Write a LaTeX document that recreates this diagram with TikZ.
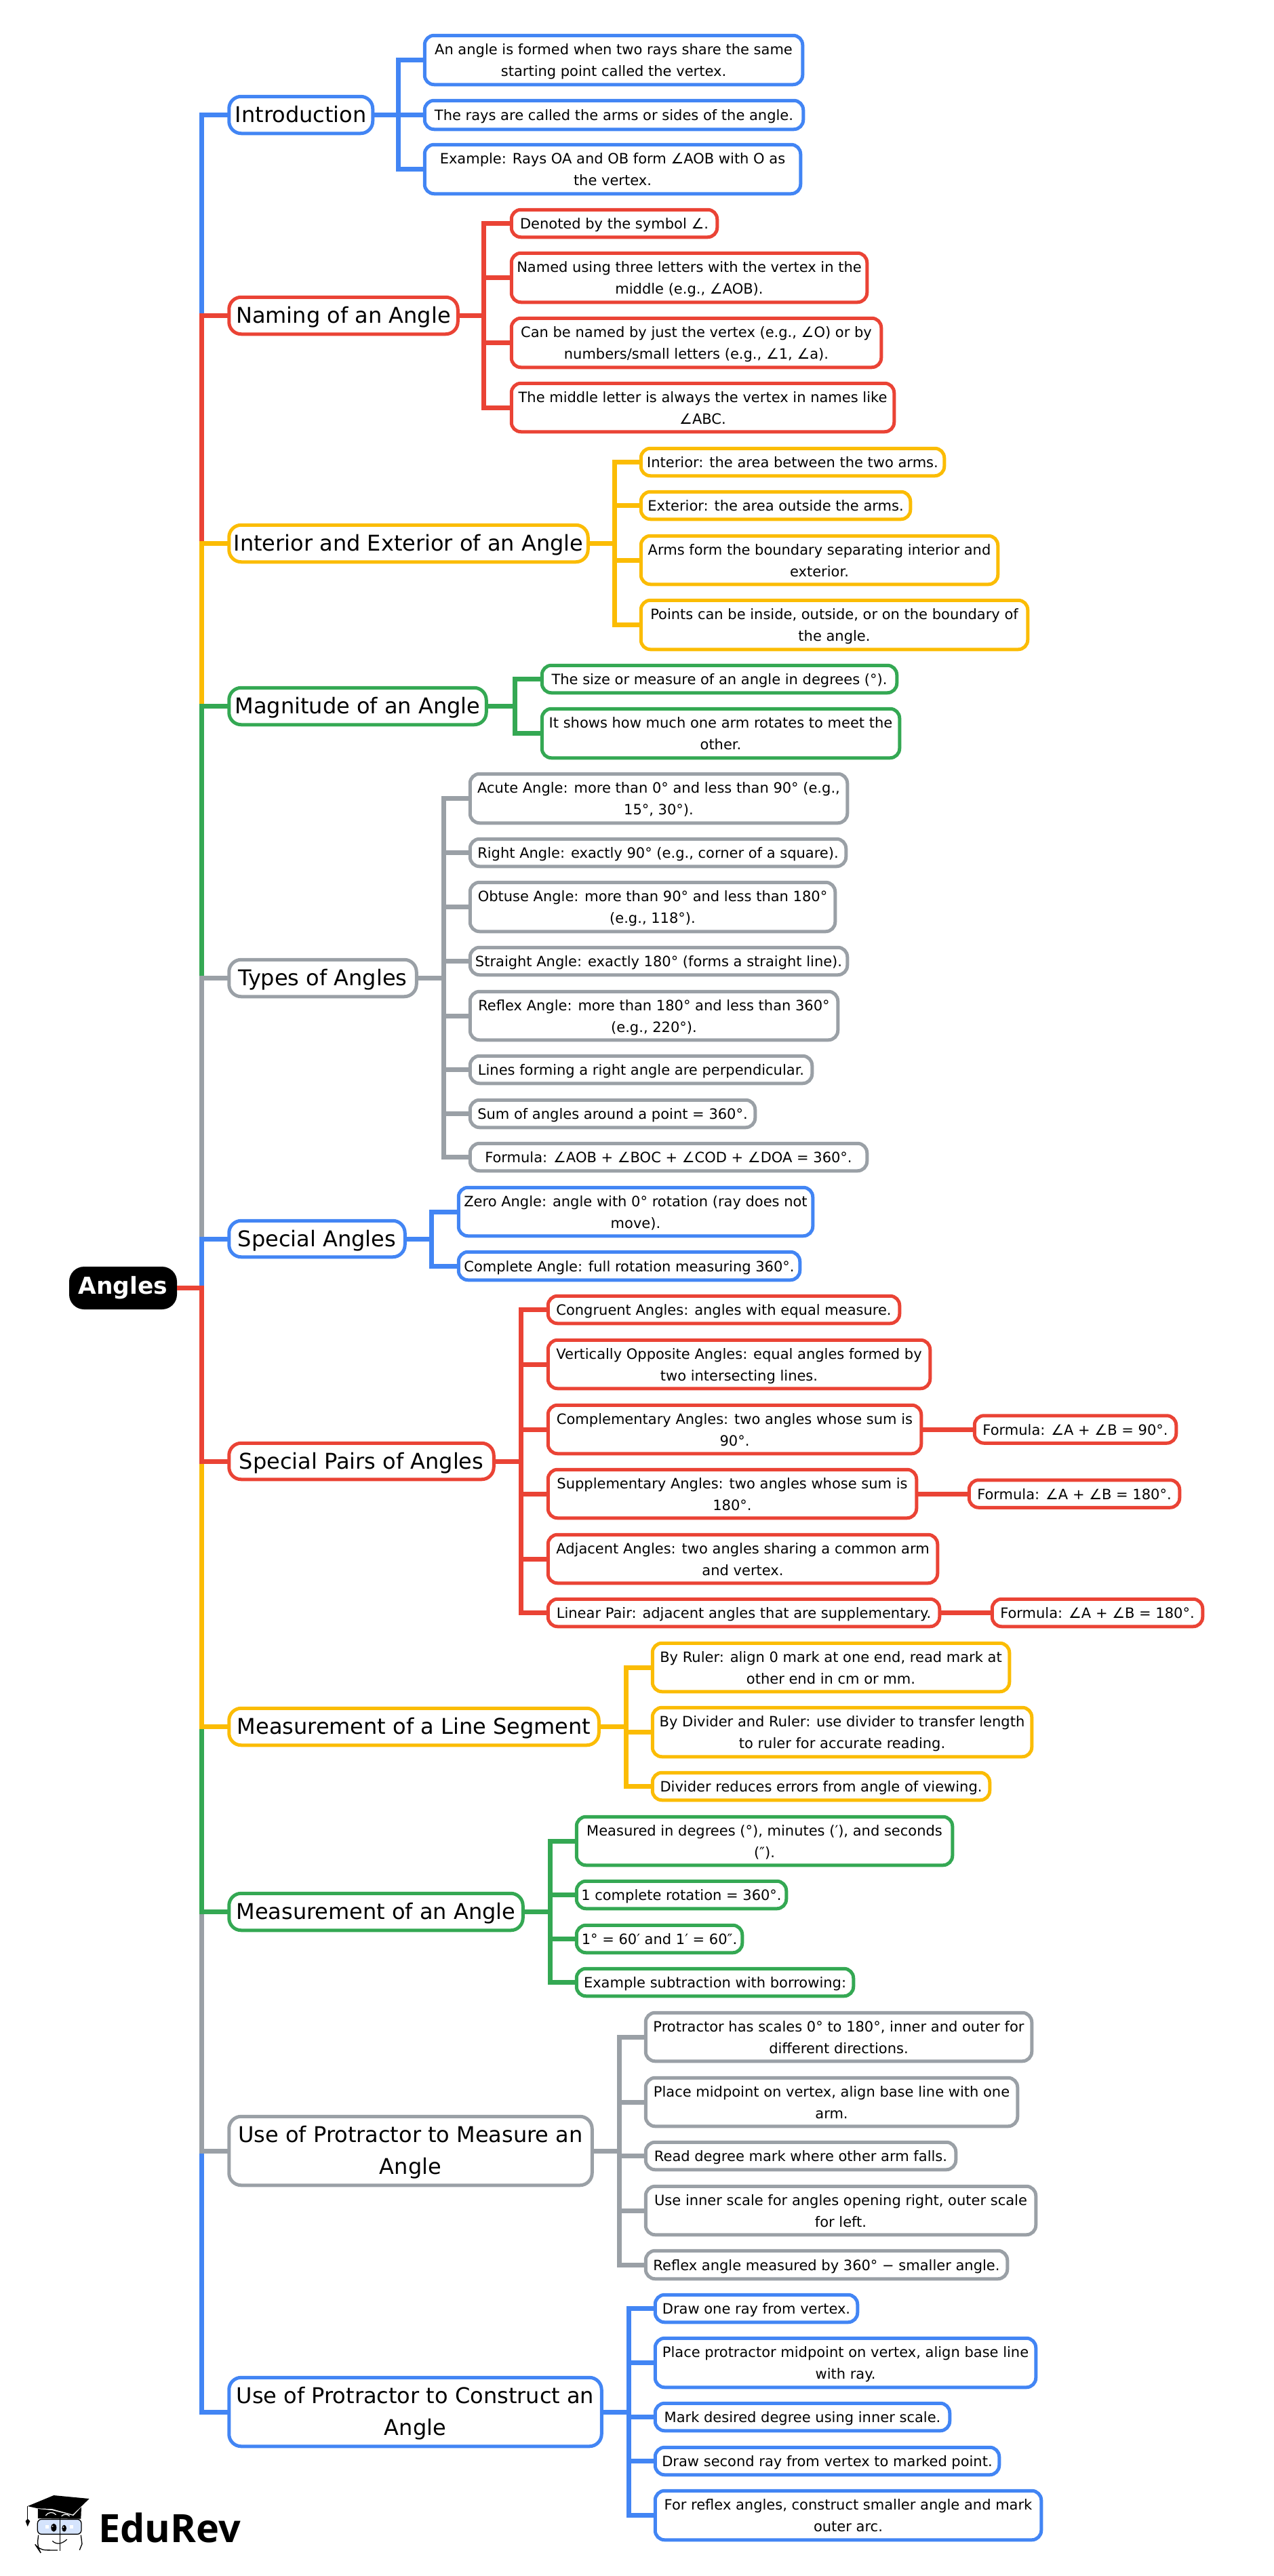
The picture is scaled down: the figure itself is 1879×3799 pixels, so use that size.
\documentclass[tikz,border=0pt]{standalone}
\usepackage{fontspec}
\setmainfont{DejaVu Sans}
\newfontfamily\logofont{Open Sans}
\definecolor{cB}{HTML}{4285F4}
\definecolor{cR}{HTML}{EA4335}
\definecolor{cY}{HTML}{FBBC04}
\definecolor{cG}{HTML}{34A853}
\definecolor{cK}{HTML}{9AA0A6}
\newcommand{\leaffont}{\fontsize{21}{32}\selectfont}
\newcommand{\mainfont}{\fontsize{32}{47}\selectfont}
\newcommand{\topstrut}{\rule{0pt}{\dimexpr0.7\baselineskip+4pt\relax}}
\newcommand{\nd}[7]{\node[#6,minimum width={#4-#2-4.5},minimum height={#5-#3-4.5}] (#1) at ({(#2+#4)/2},{(#3+#5)/2}) {\topstrut #7\strut};}
\newcommand{\elbow}[4]{\draw[conn=#1] (#2.east) -- (#2.east -| #3,0) |- (#4.west);}
\newcommand{\trunk}[2]{\draw[conn=#1] (root.east) -- (root.east -| 297,0) |- (#2.west);}
\tikzset{
  x=1pt,y=-1pt,
  boxbase/.style={draw,line width=5pt,fill=white,align=center,inner sep=0pt,outer sep=0pt},
  lf/.style={boxbase,draw=#1,rounded corners=14pt,font=\leaffont},
  mn/.style={boxbase,draw=#1,rounded corners=18pt,font=\mainfont},
  conn/.style={draw=#1,line width=7pt},
}
\begin{document}
\begin{tikzpicture}
\useasboundingbox (0,0) rectangle (1879,3799);
% root
\node[fill=black,rounded corners=22pt,text=white,inner sep=0pt,minimum width=159pt,minimum height=63pt,font=\fontsize{34.5}{40}\selectfont\bfseries] (root) at (181.5,1899.5) {\raisebox{-3pt}{Angles}};
% mains
\nd{intro}{335.5}{140}{552}{199}{mn=cB}{Introduction}
\nd{naming}{335.5}{436}{677.5}{495}{mn=cR}{Naming of an Angle}
\nd{interior}{335.5}{772}{869.5}{831}{mn=cY}{Interior and Exterior of an Angle}
\nd{magnitude}{335.5}{1012}{719.5}{1071}{mn=cG}{Magnitude of an Angle}
\nd{types}{335.5}{1413}{616.5}{1472}{mn=cK}{Types of Angles}
\nd{special}{335.5}{1798}{599.5}{1856}{mn=cB}{Special Angles}
\nd{pairs}{335.5}{2126}{730.5}{2184}{mn=cR}{Special Pairs of Angles}
\nd{segment}{335.5}{2517}{885.5}{2576}{mn=cY}{Measurement of a Line Segment}
\nd{measure}{335.5}{2790}{773.5}{2849}{mn=cG}{Measurement of an Angle}
\nd{usem}{335.5}{3119}{875.5}{3225}{mn=cK}{Use of Protractor to Measure an\\Angle}
\nd{usec}{335.5}{3504}{889.5}{3610}{mn=cB}{Use of Protractor to Construct an\\Angle}
% intro leaves
\nd{a1}{624}{50}{1186}{127}{lf=cB}{An angle is formed when two rays share the same\\starting point called the vertex.}
\nd{a2}{624}{146}{1187}{193}{lf=cB}{The rays are called the arms or sides of the angle.}
\nd{a3}{624}{211}{1183}{288}{lf=cB}{Example: Rays OA and OB form ∠AOB with O as\\the vertex.}
% naming leaves
\nd{b1}{752}{307}{1060}{352}{lf=cR}{Denoted by the symbol ∠.}
\nd{b2}{752}{371}{1281}{448}{lf=cR}{Named using three letters with the vertex in the\\middle (e.g., ∠AOB).}
\nd{b3}{752}{467}{1302}{544}{lf=cR}{Can be named by just the vertex (e.g., ∠O) or by\\numbers/small letters (e.g., ∠1, ∠a).}
\nd{b4}{752}{563}{1321}{639}{lf=cR}{The middle letter is always the vertex in names like\\∠ABC.}
% interior leaves
\nd{c1}{943}{659}{1395}{704}{lf=cY}{Interior: the area between the two arms.}
\nd{c2}{943}{723}{1345}{768}{lf=cY}{Exterior: the area outside the arms.}
\nd{c3}{943}{788}{1474}{864}{lf=cY}{Arms form the boundary separating interior and\\exterior.}
\nd{c4}{943}{883}{1518}{960}{lf=cY}{Points can be inside, outside, or on the boundary of\\the angle.}
% magnitude leaves
\nd{d1}{797}{979}{1325}{1024}{lf=cG}{The size or measure of an angle in degrees (°).}
\nd{d2}{797}{1043}{1329}{1120}{lf=cG}{It shows how much one arm rotates to meet the\\other.}
% types leaves
\nd{e1}{691}{1139}{1252}{1216}{lf=cK}{Acute Angle: more than 0° and less than 90° (e.g.,\\15°, 30°).}
\nd{e2}{691}{1235}{1250}{1280}{lf=cK}{Right Angle: exactly 90° (e.g., corner of a square).}
\nd{e3}{691}{1299}{1234}{1376}{lf=cK}{Obtuse Angle: more than 90° and less than 180°\\(e.g., 118°).}
\nd{e4}{691}{1395}{1252}{1440}{lf=cK}{Straight Angle: exactly 180° (forms a straight line).}
\nd{e5}{691}{1460}{1238}{1536}{lf=cK}{Reflex Angle: more than 180° and less than 360°\\(e.g., 220°).}
\nd{e6}{691}{1555}{1200}{1600}{lf=cK}{Lines forming a right angle are perpendicular.}
\nd{e7}{691}{1620}{1116}{1665}{lf=cK}{Sum of angles around a point = 360°.}
\nd{e8}{691}{1684}{1281}{1729}{lf=cK}{Formula: ∠AOB + ∠BOC + ∠COD + ∠DOA = 360°.}
% special leaves
\nd{f1}{674}{1749}{1201}{1825}{lf=cB}{Zero Angle: angle with 0° rotation (ray does not\\move).}
\nd{f2}{674}{1844}{1182}{1890}{lf=cB}{Complete Angle: full rotation measuring 360°.}
% pairs leaves
\nd{g1}{806}{1909}{1329}{1954}{lf=cR}{Congruent Angles: angles with equal measure.}
\nd{g2}{806}{1974}{1374}{2050}{lf=cR}{Vertically Opposite Angles: equal angles formed by\\two intersecting lines.}
\nd{g3}{806}{2070}{1361}{2146}{lf=cR}{Complementary Angles: two angles whose sum is\\90°.}
\nd{g4}{806}{2165}{1354}{2241}{lf=cR}{Supplementary Angles: two angles whose sum is\\180°.}
\nd{g5}{806}{2261}{1385}{2337}{lf=cR}{Adjacent Angles: two angles sharing a common arm\\and vertex.}
\nd{g6}{806}{2356}{1388}{2401}{lf=cR}{Linear Pair: adjacent angles that are supplementary.}
\nd{fc}{1435}{2085.5}{1737}{2130.5}{lf=cR}{Formula: ∠A + ∠B = 90°.}
\nd{fs}{1427}{2180.5}{1742}{2225.5}{lf=cR}{Formula: ∠A + ∠B = 180°.}
\nd{fl}{1461}{2356}{1776}{2401}{lf=cR}{Formula: ∠A + ∠B = 180°.}
% segment leaves
\nd{h1}{960}{2421}{1491}{2497}{lf=cY}{By Ruler: align 0 mark at one end, read mark at\\other end in cm or mm.}
\nd{h2}{960}{2516}{1524}{2593}{lf=cY}{By Divider and Ruler: use divider to transfer length\\to ruler for accurate reading.}
\nd{h3}{960}{2612}{1462}{2657}{lf=cY}{Divider reduces errors from angle of viewing.}
% measure leaves
\nd{i1}{848}{2677}{1407}{2753}{lf=cG}{Measured in degrees (°), minutes (′), and seconds\\(″).}
\nd{i2}{848}{2772}{1162}{2817}{lf=cG}{1 complete rotation = 360°.}
\nd{i3}{848}{2837}{1097}{2882}{lf=cG}{1° = 60′ and 1′ = 60″.}
\nd{i4}{848}{2901}{1261}{2946}{lf=cG}{Example subtraction with borrowing:}
% use measure leaves
\nd{j1}{950}{2966}{1524}{3042}{lf=cK}{Protractor has scales 0° to 180°, inner and outer for\\different directions.}
\nd{j2}{950}{3062}{1503}{3138}{lf=cK}{Place midpoint on vertex, align base line with one\\arm.}
\nd{j3}{950}{3157}{1412}{3202}{lf=cK}{Read degree mark where other arm falls.}
\nd{j4}{950}{3222}{1530}{3298}{lf=cK}{Use inner scale for angles opening right, outer scale\\for left.}
\nd{j5}{950}{3317}{1488}{3363}{lf=cK}{Reflex angle measured by 360° − smaller angle.}
% use construct leaves
\nd{k1}{964}{3382}{1267}{3427}{lf=cB}{Draw one ray from vertex.}
\nd{k2}{964}{3446}{1530}{3523}{lf=cB}{Place protractor midpoint on vertex, align base line\\with ray.}
\nd{k3}{964}{3542}{1403}{3587}{lf=cB}{Mark desired degree using inner scale.}
\nd{k4}{964}{3607}{1476}{3652}{lf=cB}{Draw second ray from vertex to marked point.}
\nd{k5}{964}{3671}{1538}{3748}{lf=cB}{For reflex angles, construct smaller angle and mark\\outer arc.}
% trunk: farthest children first
\trunk{cB}{intro}
\trunk{cR}{naming}
\trunk{cY}{interior}
\trunk{cG}{magnitude}
\trunk{cK}{types}
\trunk{cB}{special}
\trunk{cB}{usec}
\trunk{cK}{usem}
\trunk{cG}{measure}
\trunk{cY}{segment}
\trunk{cR}{pairs}
% branches
\foreach \c in {a1,a2,a3}{\elbow{cB}{intro}{587}{\c}}
\foreach \c in {b1,b2,b3,b4}{\elbow{cR}{naming}{713}{\c}}
\foreach \c in {c1,c2,c3,c4}{\elbow{cY}{interior}{906}{\c}}
\foreach \c in {d1,d2}{\elbow{cG}{magnitude}{759}{\c}}
\foreach \c in {e1,e2,e3,e4,e5,e6,e7,e8}{\elbow{cK}{types}{654}{\c}}
\foreach \c in {f1,f2}{\elbow{cB}{special}{636}{\c}}
\foreach \c in {g1,g2,g3,g4,g5,g6}{\elbow{cR}{pairs}{768}{\c}}
\foreach \c in {h1,h2,h3}{\elbow{cY}{segment}{923}{\c}}
\foreach \c in {i1,i2,i3,i4}{\elbow{cG}{measure}{811}{\c}}
\foreach \c in {j1,j2,j3,j4,j5}{\elbow{cK}{usem}{913.5}{\c}}
\foreach \c in {k1,k2,k3,k4,k5}{\elbow{cB}{usec}{927}{\c}}
\draw[conn=cR] (g3.east) -- (fc.west);
\draw[conn=cR] (g4.east) -- (fs.west);
\draw[conn=cR] (g6.east) -- (fl.west);
% logo
\begin{scope}[shift={(20,3640)},x=0.3333pt,y=-0.3333pt]
  \fill[black] (62,168) -- (178,120) -- (335,135) -- (262,205) -- (170,180) -- (108,178) -- cycle;
  \fill[black] (108,180) -- (170,186) -- (265,210) -- (300,172) -- (298,224) -- (108,222) -- cycle;
  \draw[white,line width=1.2pt] (142,210) .. controls (155,192) and (175,192) .. (188,206);
  \draw[white,line width=1.2pt] (212,212) .. controls (222,202) and (238,202) .. (248,212);
  \draw[black,line width=1pt] (62,168) -- (62,226);
  \fill[black] (53,234) -- (62,224) -- (73,234) -- (62,258) -- cycle;
  \draw[black,line width=1.3pt,fill=cB!22!white,rounded corners=6pt] (106,226) rectangle (300,292);
  \draw[black,line width=1.3pt,rounded corners=10pt] (110,296) -- (104,350) -- (112,362) -- (195,363);
  \draw[black,line width=1.3pt] (298,296) -- (303,335) -- (292,362);
  \draw[black,line width=1.5pt] (205,222) -- (205,366);
  \draw[black,line width=1.2pt] (172,322) .. controls (190,340) and (215,335) .. (236,315);
  \fill[black] (178,263) ellipse [x radius=12,y radius=18];
  \fill[black] (224,266) ellipse [x radius=10,y radius=15];
  \fill[white] (173,257) circle (3);
  \fill[white] (221,261) circle (3);
  \fill[white] (142,253) rectangle (156,267);
  \fill[white] (250,253) rectangle (264,267);
\end{scope}
\node[anchor=base west,inner sep=0pt,font=\fontsize{57.5}{60}\logofont\selectfont\bfseries,text=black] (logo) at (145,3749) {EduRev};
\end{tikzpicture}
\end{document}
